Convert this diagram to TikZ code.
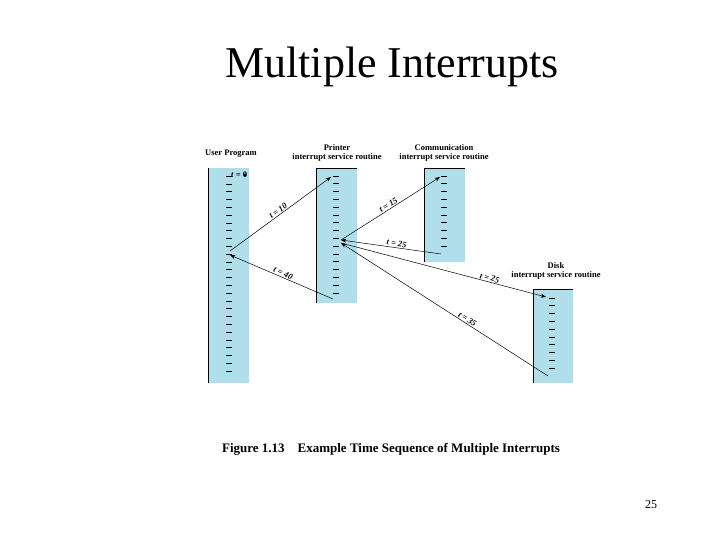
\documentclass[tikz,border=0pt]{standalone}
\usepackage{fontspec}
\setmainfont{Liberation Serif}
\usetikzlibrary{arrows.meta}
\usetikzlibrary{positioning}
\tikzset{>=Stealth}
\definecolor{routine}{RGB}{176,222,234}
\tikzset{
  column/.style={fill=routine,draw=none},
  head/.style={font=\fontsize{8.5}{9.5}\selectfont\bfseries,align=center},
  tlabel/.style={font=\fontsize{8.5}{9.5}\selectfont\itshape\bfseries,sloped,above,inner sep=1pt},
  jump/.style={->,line width=0.5pt}
}
\newcommand{\ticks}[4]{\foreach \yy in {#3,#4,...,#2} \draw[line width=0.9pt] (#1,\yy) -- ++(6,0);}

\begin{document}
\begin{tikzpicture}[x=1pt,y=-1pt]
        \useasboundingbox (0,0) rectangle (720,540);
        \node[font=\fontsize{44}{48}\selectfont] (title) at (392,67) {Multiple Interrupts};

        % routines
        \fill[column] (208,168) rectangle (249,383);
        \draw[line width=0.8pt] (208,168) -- (208,383);
        \fill[column] (316,168) rectangle (357,303);
        \draw[line width=0.8pt] (316,303) -- (316,168) -- (357,168);
        \fill[column] (424,168) rectangle (465,262);
        \draw[line width=0.8pt] (424,262) -- (424,168) -- (465,168);
        \fill[column] (533,289) rectangle (573,383);
        \draw[line width=0.8pt] (533,383) -- (533,289) -- (573,289);

        \ticks{226}{372}{184}{191.8}
        \draw[line width=0.9pt] (226,176) -- ++(6,0);
        \ticks{333}{297}{176}{183.8}
        \ticks{441}{252}{176}{183.8}
        \ticks{549}{374}{298}{305.8}

        \node[head] (user) at (231,154) {User Program};
        \node[head] (printer) at (337,153) {Printer\\interrupt service routine};
        \node[head] (comm) at (444,153) {Communication\\interrupt service routine};
        \node[head] (disk) at (556,271) {Disk\\interrupt service routine};
        \node[font=\fontsize{8.5}{9.5}\selectfont\bfseries,anchor=west,inner sep=0pt] (t0) at (231,175) {\textit{t} = 0};
        \fill (245,175) circle (1.6pt);

        \coordinate (u1) at (230,251);
        \coordinate (u2) at (230,255);
        \coordinate (p0) at (331,177);
        \coordinate (p1) at (341,240);
        \coordinate (p2) at (341,243);
        \coordinate (p3) at (333,299);
        \coordinate (c0) at (440,177);
        \coordinate (c1) at (441,254);
        \coordinate (d0) at (546,297);
        \coordinate (d1) at (548,376);

        \draw[jump] (u1) -- node[tlabel] {t = 10} (p0);
        \draw[jump] (p3) -- node[tlabel] {t = 40} (u2);
        \draw[jump] (p1) -- node[tlabel] {t = 15} (c0);
        \draw[jump] (c1) -- node[tlabel,pos=0.45] {t = 25} (p1);
        \draw[jump] (p2) -- node[tlabel,pos=0.72] {t = 25} (d0);
        \draw[jump] (d1) -- node[tlabel,pos=0.4] {t = 35} (p2);

        \node[font=\fontsize{13}{15}\selectfont\bfseries] (caption) at (391,449) {Figure 1.13\quad Example Time Sequence of Multiple Interrupts};
        \node[font=\fontsize{12}{14}\selectfont] (page) at (651,505) {25};
\end{tikzpicture}
\end{document}
